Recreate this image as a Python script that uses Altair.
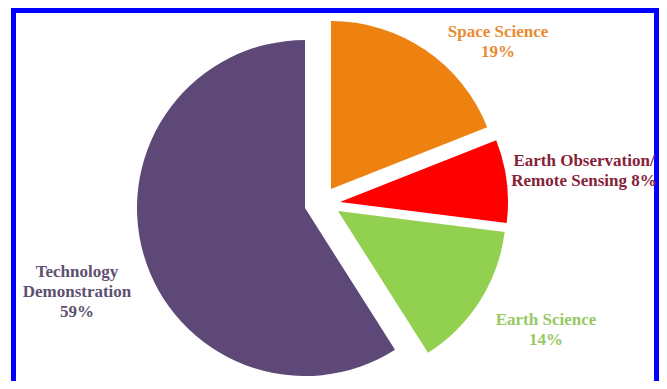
import altair as alt
import pandas as pd

# ---- data ----
categories = ["Space Science", "Earth Observation/ Remote Sensing", "Earth Science", "Technology Demonstration"]
shares = [19, 8, 14, 59]
order = [1, 2, 3, 4]
label_names = [["Space Science"], ["Earth Observation/", "Remote Sensing"], ["Earth Science"], ["Technology", "Demonstration"]]
percent_inline = [False, True, False, False]
slice_colors = ["#EE8210", "#FF0000", "#92D050", "#5E4878"]
label_colors = ["#E98B33", "#862339", "#97C964", "#5E5070"]


def make_lines(names, v, inline):
    lines = list(names)
    if inline:
        lines[-1] = f"{lines[-1]} {v}%"
    else:
        lines.append(f"{v}%")
    return lines


df = pd.DataFrame({
    "category": categories,
    "share": shares,
    "order": order,
    "label": [make_lines(n, v, i) for n, v, i in zip(label_names, shares, percent_inline)],
})

# ---- layout (styles) ----
CX, CY, R = 297, 200, 168
explode = {
    "Space Science": (26, -19),
    "Earth Observation/ Remote Sensing": (35, -6),
    "Earth Science": (33, 3),
    "Technology Demonstration": (0, 0),
}
label_pos = {
    "Space Science": (490, 23.5),
    "Earth Observation/ Remote Sensing": (576, 152.5),
    "Earth Science": (538, 311.5),
    "Technology Demonstration": (69, 264),
}

base = (
    alt.Chart(df)
    .transform_joinaggregate(total="sum(share)")
    .transform_window(cum="sum(share)", sort=[alt.SortField("order")])
    .transform_calculate(
        t0="(datum.cum - datum.share) / datum.total * 2 * PI",
        t1="datum.cum / datum.total * 2 * PI",
    )
)

layers = []
frame = alt.Chart(pd.DataFrame({"f": [0]})).mark_rect(
    fill=None, stroke="#0000FF", strokeWidth=5
).encode(
    x=alt.value(5.5), x2=alt.value(648.5), y=alt.value(2.5), y2=alt.value(430)
)
layers.append(frame)

for cat, col, lcol in zip(categories, slice_colors, label_colors):
    dx, dy = explode[cat]
    arc = base.transform_filter(alt.datum.category == cat).mark_arc(
        radius=R, color=col, xOffset=dx, yOffset=dy
    ).encode(
        theta=alt.Theta("t0:Q", scale=None),
        theta2="t1:Q",
        x=alt.value(CX),
        y=alt.value(CY),
    )
    layers.append(arc)

for cat, lcol in zip(categories, label_colors):
    lx, ly = label_pos[cat]
    txt = alt.Chart(df).transform_filter(alt.datum.category == cat).mark_text(
        font="Liberation Serif", fontWeight="bold", fontSize=17, lineHeight=20,
        align="center", baseline="middle", color=lcol,
    ).encode(
        text="label",
        x=alt.value(lx),
        y=alt.value(ly),
    )
    layers.append(txt)

chart = alt.layer(*layers).properties(
    width=651, height=373, padding=0,
    autosize=alt.AutoSizeParams(type="none"),
    background="white",
).configure_view(stroke=None)

chart.save("out.html", embed_options={"renderer": "svg", "actions": False})
